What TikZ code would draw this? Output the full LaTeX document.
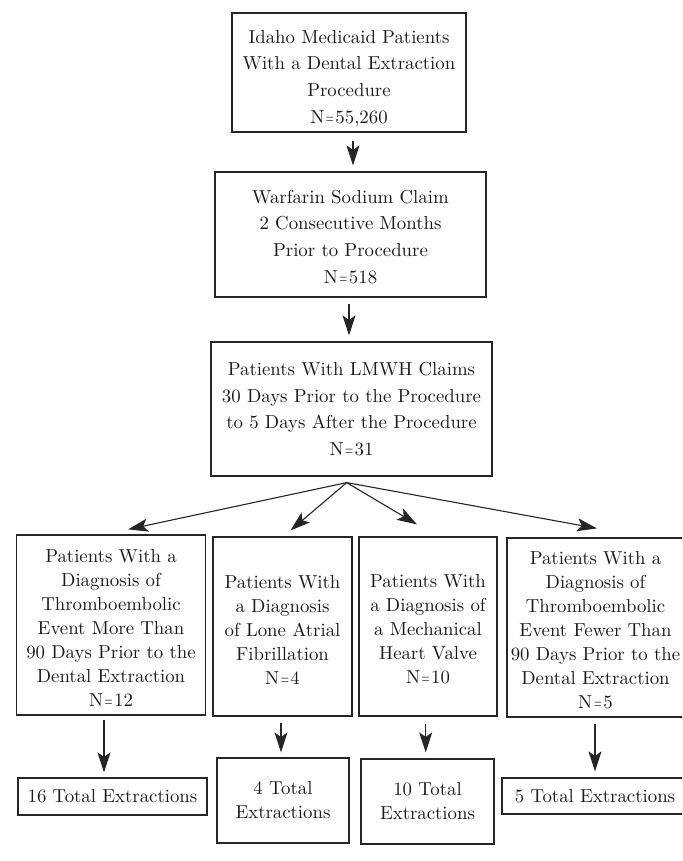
\documentclass[tikz,border=0pt]{standalone}
\usepackage{fontspec}
\usepackage{graphicx}
\setmainfont{lmroman10-regular.otf}[Ligatures=TeX]
\usetikzlibrary{arrows.meta,calc}
\definecolor{ink}{HTML}{262626}
\definecolor{txt}{HTML}{1A1A1A}
\newcommand{\eqn}[1]{N\kern1.5pt\scalebox{0.55}[0.9]{=}\kern1.5pt#1}
\begin{document}
\begin{tikzpicture}[x=1pt,y=-1pt,
  box/.style={draw=ink,line width=1.2pt,inner sep=0pt,align=center,text=txt},
  topbox/.style={box,font=\fontsize{18.8}{26.7}\selectfont},
  lowbox/.style={box,font=\fontsize{18.8}{24}\selectfont},
  arr/.style={draw=ink,line width=1.2pt,-{Stealth[length=20pt,width=13pt,inset=4.5pt]}},
  fan/.style={draw=ink,line width=1.1pt,-{Stealth[length=20pt,width=13pt,inset=4.5pt]}}]
\useasboundingbox (0,0) rectangle (682,861);
\clip (0,0) rectangle (682,861);
\fill[white] (0,0) rectangle (682,861);

% top chain
\node[topbox,minimum width=234pt,minimum height=119pt,text width=232pt] (b1) at (349,72.5)
  {\rule{0pt}{25pt}Idaho Medicaid Patients\\With a Dental Extraction\\Procedure\\\eqn{55,260}};
\node[topbox,minimum width=271pt,minimum height=125pt,text width=269pt] (b2) at (350.5,234.5)
  {\rule{0pt}{18pt}Warfarin Sodium Claim\\2 Consecutive Months\\Prior to Procedure\\\eqn{518}};
\node[topbox,minimum width=281pt,minimum height=134pt,text width=279pt] (b3) at (351.5,409)
  {Patients With LMWH Claims\\30 Days Prior to the Procedure\\to 5 Days After the Procedure\\\eqn{31}};

% diagnosis row
\node[lowbox,minimum width=189pt,minimum height=180pt,text width=188pt] (bA) at (111,625)
  {\rule{0pt}{19pt}Patients With a\\Diagnosis of\\Thromboembolic\\Event More Than\\90 Days Prior to the\\Dental Extraction\\\eqn{12}};
\node[lowbox,minimum width=139pt,minimum height=179pt,text width=138pt] (bB) at (282.5,626.5)
  {\rule{0pt}{19pt}Patients With\\a Diagnosis\\of Lone Atrial\\Fibrillation\\\eqn{4}};
\node[lowbox,minimum width=138pt,minimum height=179pt,text width=137pt] (bC) at (428,626.5)
  {\rule{0pt}{19pt}Patients With\\a Diagnosis of\\a Mechanical\\Heart Valve\\\eqn{10}};
\node[lowbox,minimum width=177pt,minimum height=179pt,text width=176pt] (bD) at (595.5,627.5)
  {\rule{0pt}{19pt}Patients With a\\Diagnosis of\\Thromboembolic\\Event Fewer Than\\90 Days Prior to the\\Dental Extraction\\\eqn{5}};

% totals row
\node[lowbox,minimum width=189pt,minimum height=37pt,text width=188pt] (bE) at (112.5,796.5)
  {16 Total Extractions};
\node[lowbox,minimum width=132pt,minimum height=85pt,text width=131pt] (bF) at (283,800.5)
  {4 Total\\Extractions};
\node[lowbox,minimum width=133pt,minimum height=85pt,text width=132pt] (bG) at (427.5,801.5)
  {10 Total\\Extractions};
\node[lowbox,minimum width=186pt,minimum height=36pt,text width=185pt] (bH) at (595,796)
  {5 Total Extractions};

% vertical arrows
\draw[arr,shorten <=8pt,shorten >=6pt] ([xshift=4pt]b1.south) -- ([xshift=2.5pt]b2.north);
\draw[arr,shorten <=6pt,shorten >=6pt] ([xshift=-1.5pt]b2.south) -- ([xshift=-2.5pt]b3.north);

% fan out
\coordinate (hub) at ([xshift=-4.8pt,yshift=-6pt]b3.south);
\draw[fan] (hub) -- ([xshift=17pt,yshift=5pt]bA.north);
\draw[fan] (hub) -- ([xshift=8pt,yshift=6pt]bB.north);
\draw[fan] (hub) -- ([xshift=-11pt,yshift=12pt]bC.north);
\draw[fan] (hub) -- ([xshift=1.5pt,yshift=9pt]bD.north);

% lower arrows
\draw[arr,shorten <=4pt,shorten >=5pt] ([xshift=-7pt]bA.south) -- ([xshift=-8.5pt]bE.north);
\draw[arr,shorten <=6pt,shorten >=5pt] ([xshift=-1.5pt]bB.south) -- ([xshift=-2pt]bF.north);
\draw[arr,shorten <=7pt,shorten >=6pt] ([xshift=-2.3pt]bC.south) -- ([xshift=-1.8pt]bG.north);
\draw[arr,shorten <=6pt,shorten >=6pt] ([xshift=-0.5pt]bD.south) -- ([xshift=0pt]bH.north);
\end{tikzpicture}
\end{document}
